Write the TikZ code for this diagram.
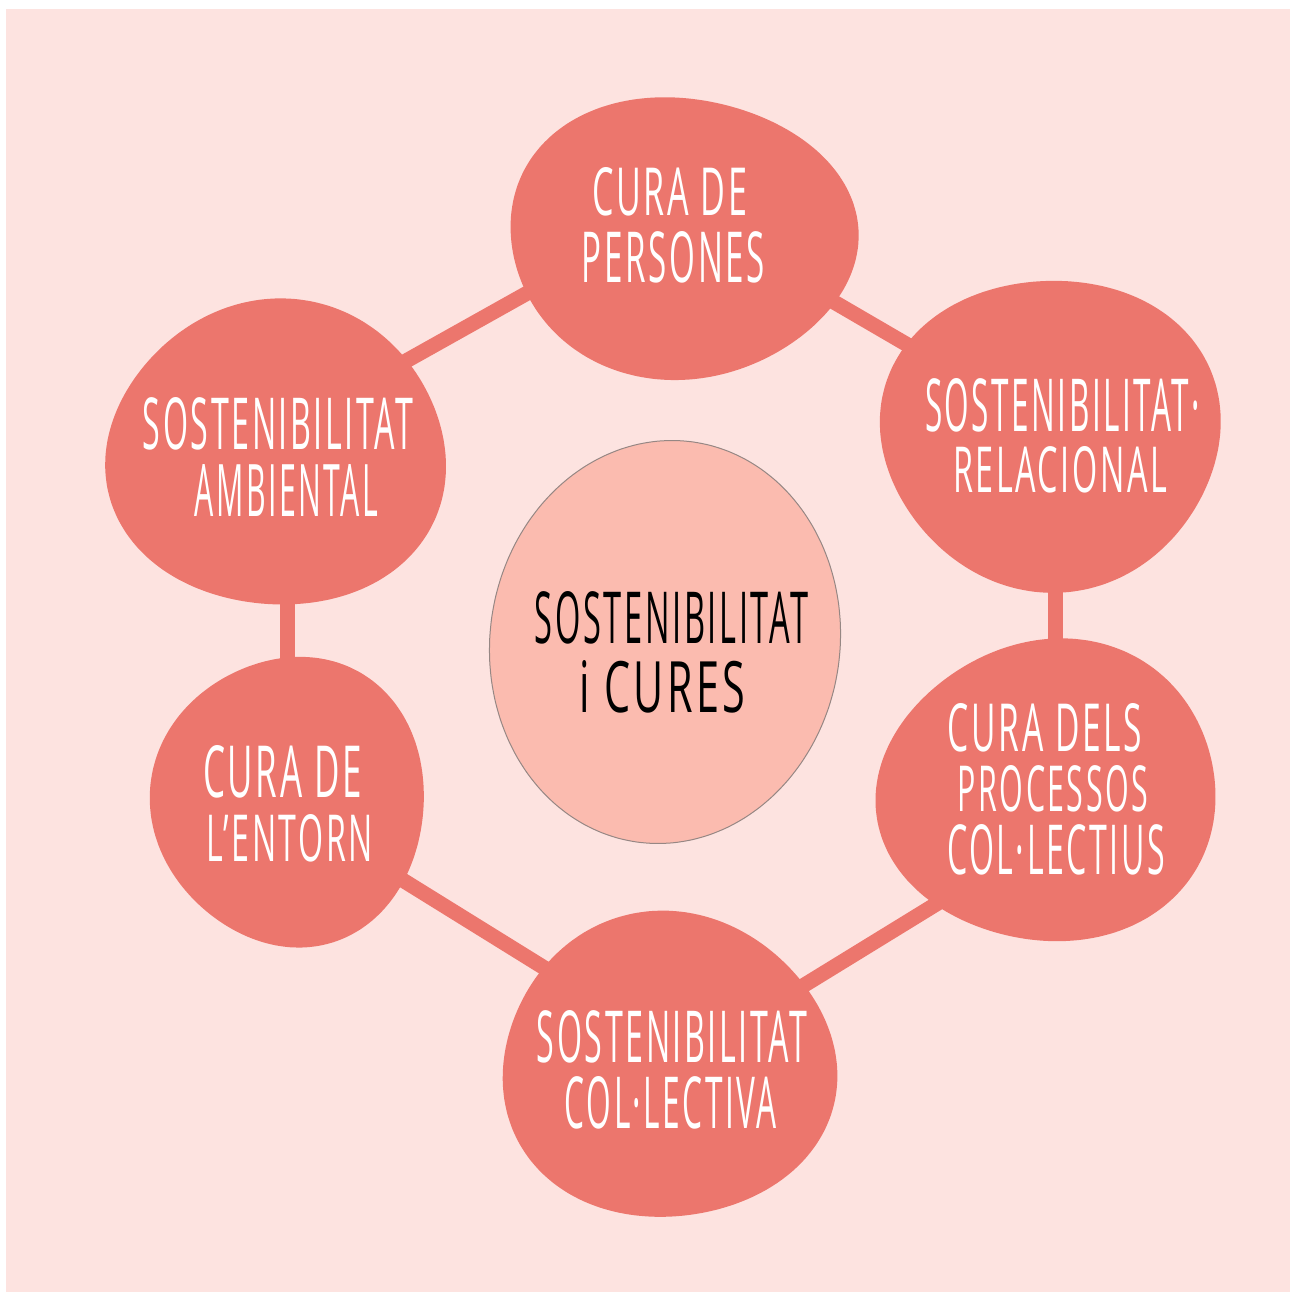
\documentclass[tikz,border=0pt]{standalone}
\usepackage{graphicx}
\usepackage{fontspec}
\setmainfont{Open Sans}[LetterSpace=8]
\usetikzlibrary{calc,backgrounds}
\definecolor{bgpink}{RGB}{253,227,224}
\definecolor{blobred}{RGB}{236,118,109}
\definecolor{eggpink}{RGB}{251,187,175}
\definecolor{eggline}{RGB}{150,135,132}
\tikzset{
  blob/.style={fill=blobred},
  egg/.style={fill=eggpink, draw=eggline, line width=1pt},
  link/.style={draw=blobred, line width=15pt},
  wtxt/.style={inner sep=0pt, text=white},
  btxt/.style={inner sep=0pt, text=black},
}
\newcommand\tline[3]{\resizebox{#1pt}{#2pt}{#3}}
% blob outline: centre x, centre y, rx, ry, rotation, wobble phase
\newcommand\blobpath[6]{plot[domain=0:354, samples=60, smooth cycle, variable=\t]
  ({#1 + (1+0.025*cos(3*\t+#6))*(#3*cos(\t)*cos(#5) - #4*sin(\t)*sin(#5))},
   {#2 + (1+0.025*cos(3*\t+#6))*(#3*cos(\t)*sin(#5) + #4*sin(\t)*cos(#5))})}
\begin{document}
\begin{tikzpicture}[x=1pt,y=-1pt]
\useasboundingbox (0,0) rectangle (1290,1292);
% blob centres
\coordinate (top) at (681,237);
\coordinate (rel) at (1051,433);
\coordinate (proc) at (1049,792);
\coordinate (bot) at (668,1067);
\coordinate (ent) at (290,801);
\coordinate (amb) at (277,455);
\coordinate (mid) at (665,642);
% blobs
\fill[blob] \blobpath{681}{237}{174}{141}{3}{40};
\fill[blob] \blobpath{1051}{433}{170}{156}{0}{100};
\fill[blob] \blobpath{1049}{792}{170}{151}{-5}{200};
\fill[blob] \blobpath{668}{1067}{167}{153}{0}{300};
\fill[blob] \blobpath{290}{801}{137}{145}{0}{160};
\fill[blob] \blobpath{277}{455}{170}{153}{0}{250};
\path[egg] plot[domain=0:354, samples=60, smooth cycle, variable=\t]
  ({665 + 175*cos(\t)*cos(8) - 202*sin(\t)*sin(8)},
   {642 + 175*cos(\t)*sin(8) + 202*sin(\t)*cos(8)});
% texts
\node[wtxt] (t1a) at (669.5,192) {\tline{155}{48}{CURA DE}};
\node[wtxt] (t1b) at (673.5,257.5) {\tline{183}{51}{PERSONES}};
\node[wtxt] (t2a) at (1062.5,405) {\tline{275}{53}{SOSTENIBILITAT·}};
\node[wtxt] (t2b) at (1060,470) {\tline{214}{46}{RELACIONAL}};
\node[wtxt] (t3a) at (1045,728) {\tline{194}{48}{CURA DELS}};
\node[wtxt] (t3b) at (1053,789) {\tline{190}{46}{PROCESSOS}};
\node[wtxt] (t3c) at (1056,850) {\tline{218}{50}{COL·LECTIUS}};
\node[wtxt] (t4a) at (672,1037) {\tline{270}{52}{SOSTENIBILITAT}};
\node[wtxt] (t4b) at (671,1103) {\tline{212}{52}{COL·LECTIVA}};
\node[wtxt] (t5a) at (282.5,772) {\tline{159}{52}{CURA DE}};
\node[wtxt] (t5b) at (290,838) {\tline{166}{47}{L'ENTORN}};
\node[wtxt] (t6a) at (278,424) {\tline{270}{52}{SOSTENIBILITAT}};
\node[wtxt] (t6b) at (286.5,490) {\tline{183}{52}{AMBIENTAL}};
\node[btxt] (t0a) at (671.5,618) {\tline{273}{52}{SOSTENIBILITAT}};
\node[btxt] (t0b) at (662.5,687) {\tline{165}{52}{i CURES}};
\begin{pgfonlayer}{background}
\fill[white] (0,0) rectangle (1290,1292);
\fill[bgpink] (6,9) rectangle (1290,1292);
\draw[link] ($(top)+(110,40)$) -- ($(rel)+(-90,-57)$);
\draw[link] ($(rel)+(4,128)$) -- ($(proc)+(6,-110)$);
\draw[link] ($(proc)+(-85,95)$) -- ($(bot)+(112,-67)$);
\draw[link] ($(bot)+(-88,-77)$) -- ($(ent)+(90,65)$);
\draw[link] ($(ent)+(-3,-110)$) -- ($(amb)+(10,115)$);
\draw[link] ($(amb)+(104,-80)$) -- ($(top)+(-125,40)$);
\end{pgfonlayer}
\end{tikzpicture}
\end{document}
